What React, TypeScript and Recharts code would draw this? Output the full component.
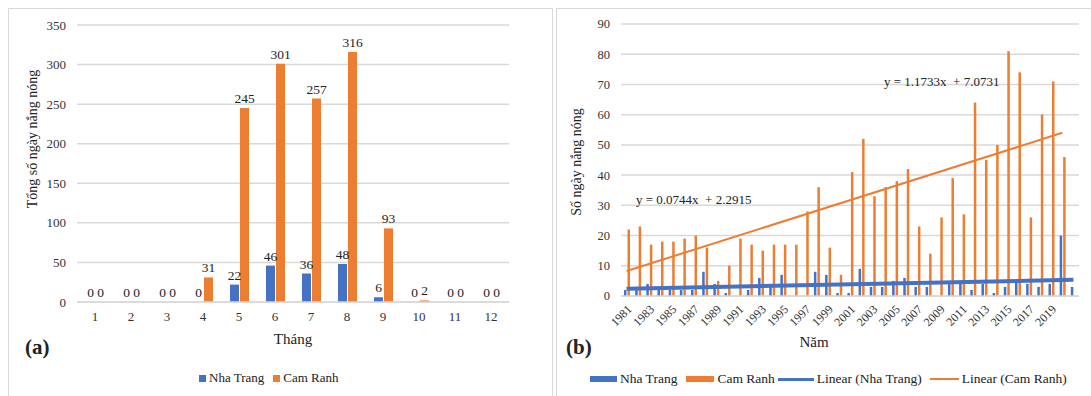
import React from "react";
import {
  Bar,
  BarChart,
  CartesianGrid,
  ComposedChart,
  LabelList,
  Line,
  XAxis,
  YAxis,
} from "recharts";

const BLUE = "#4472C4";
const ORANGE = "#ED7D31";
const GRID = "#d9d9d9";
const FONT = "'Liberation Serif', 'Times New Roman', serif";

// (a) monthly totals
const months = ["1", "2", "3", "4", "5", "6", "7", "8", "9", "10", "11", "12"];
const monthlyNhaTrang = [0, 0, 0, 0, 22, 46, 36, 48, 6, 0, 0, 0];
const monthlyCamRanh = [0, 0, 0, 31, 245, 301, 257, 316, 93, 2, 0, 0];
const monthlyTicks = [0, 50, 100, 150, 200, 250, 300, 350];

// (b) yearly counts, 1981-2021
const years = [
  "1981", "1982", "1983", "1984", "1985", "1986", "1987", "1988", "1989", "1990",
  "1991", "1992", "1993", "1994", "1995", "1996", "1997", "1998", "1999", "2000",
  "2001", "2002", "2003", "2004", "2005", "2006", "2007", "2008", "2009", "2010",
  "2011", "2012", "2013", "2014", "2015", "2016", "2017", "2018", "2019", "2020",
  "2021",
];
const yearlyNhaTrang = [
  2, 2, 4, 2, 2, 2, 2, 8, 4, 1,
  0, 2, 6, 4, 7, 0, 0, 8, 7, 1,
  1, 9, 3, 3, 5, 6, 3, 3, 0, 4,
  4, 2, 4, 1, 3, 5, 4, 3, 4, 20,
  3,
];
const yearlyCamRanh: (number | null)[] = [
  22, 23, 17, 18, 18, 19, 20, 16, 5, 10,
  19, 17, 15, 17, 17, 17, 28, 36, 16, 7,
  41, 52, 33, 36, 38, 42, 23, 14, 26, 39,
  27, 64, 45, 50, 81, 74, 26, 60, 71, 46,
  null,
];
// trendline end points [first year, last year of series]
const trendNhaTrang = [2.37, 5.34];
const trendCamRanh = [8.25, 54.0];
const yearlyTicks = [0, 10, 20, 30, 40, 50, 60, 70, 80, 90];
const shownYears = years.filter((_, i) => i % 2 === 0 && i < 40);

const monthlyData = months.map((m, i) => ({
  month: m,
  nha: monthlyNhaTrang[i],
  cam: monthlyCamRanh[i],
}));

const lastCam = yearlyCamRanh.reduce((acc: number, v, i) => (v != null ? i : acc), 0);
const yearlyData = years.map((y, i) => ({
  year: y,
  nha: yearlyNhaTrang[i],
  cam: yearlyCamRanh[i],
  nhaTrend: i === 0 ? trendNhaTrang[0] : i === years.length - 1 ? trendNhaTrang[1] : null,
  camTrend: i === 0 ? trendCamRanh[0] : i === lastCam ? trendCamRanh[1] : null,
}));

const abs = (s: React.CSSProperties): React.CSSProperties => ({ position: "absolute", ...s });
const tickStyle = (size: number) => ({ fill: "#333", fontSize: size, fontFamily: FONT, style: { fontFamily: FONT } });

function Swatch({ color, w, h }: { color: string; w: number; h: number }) {
  return <span style={{ display: "inline-block", width: w, height: h, background: color, marginRight: 3 }} />;
}

function MonthlyChart() {
  return (
    <div style={abs({ left: 0, top: 0, fontFamily: FONT })}>
      <BarChart
        width={550}
        height={396}
        data={monthlyData}
        margin={{ top: 25, right: 41, bottom: 64, left: 37 }}
        barSize={9}
        barGap={1}
        style={{ fontFamily: FONT }}
      >
        <CartesianGrid stroke={GRID} strokeWidth={1.5} vertical={false} />
        <XAxis
          dataKey="month"
          tickLine={false}
          axisLine={{ stroke: GRID, strokeWidth: 1.5 }}
          tick={tickStyle(13)}
          height={30}
          tickMargin={4}
        />
        <YAxis
          domain={[0, 350]}
          ticks={monthlyTicks}
          tickLine={false}
          axisLine={false}
          width={40}
          tickMargin={5}
          tick={tickStyle(13)}
        />
        <Bar dataKey="nha" fill={BLUE} minPointSize={0.01} isAnimationActive={false}>
          <LabelList dataKey="nha" position="top" fill="#222" fontSize={13.5} fontFamily={FONT} />
        </Bar>
        <Bar dataKey="cam" fill={ORANGE} minPointSize={0.01} isAnimationActive={false}>
          <LabelList dataKey="cam" position="top" fill="#222" fontSize={13.5} fontFamily={FONT} />
        </Bar>
      </BarChart>
    </div>
  );
}

function YearlyChart() {
  return (
    <div style={abs({ left: 556, top: 0, fontFamily: FONT })}>
      <ComposedChart
        width={535}
        height={396}
        data={yearlyData}
        margin={{ top: 24, right: 12, bottom: 40, left: 35 }}
        barSize={2.5}
        barGap={1}
        style={{ fontFamily: FONT }}
      >
        <CartesianGrid stroke={GRID} strokeWidth={1.5} vertical={false} />
        <XAxis
          dataKey="year"
          interval={0}
          tickLine={false}
          axisLine={{ stroke: GRID, strokeWidth: 1.5 }}
          height={60}
          angle={-45}
          textAnchor="end"
          tickMargin={2}
          tickFormatter={(v: string) => (shownYears.includes(v) ? v : "")}
          tick={tickStyle(12)}
        />
        <YAxis
          domain={[0, 90]}
          ticks={yearlyTicks}
          tickLine={false}
          axisLine={false}
          width={30}
          tickMargin={5}
          tick={tickStyle(12.5)}
        />
        <Bar dataKey="nha" fill={BLUE} isAnimationActive={false} />
        <Bar dataKey="cam" fill={ORANGE} isAnimationActive={false} />
        <Line
          dataKey="camTrend"
          stroke={ORANGE}
          strokeWidth={2}
          dot={false}
          connectNulls
          isAnimationActive={false}
        />
        <Line
          dataKey="nhaTrend"
          stroke={BLUE}
          strokeWidth={4}
          dot={false}
          connectNulls
          isAnimationActive={false}
        />
      </ComposedChart>
    </div>
  );
}

export default function App() {
  return (
    <div
      style={{
        position: "fixed",
        left: 0,
        top: 0,
        width: 1091,
        height: 396,
        background: "#fff",
        fontFamily: FONT,
        color: "#222",
        overflow: "hidden",
      }}
    >
      <div style={abs({ left: 8, top: 8, width: 543, height: 400, border: `1px solid ${GRID}` })} />
      <div style={abs({ left: 556, top: 8, width: 540, height: 400, border: `1px solid ${GRID}` })} />
      <MonthlyChart />
      <YearlyChart />

      {/* (a) titles and legend */}
      <div
        style={abs({
          left: 33,
          top: 139,
          fontSize: 14,
          whiteSpace: "nowrap",
          transform: "translate(-50%, -50%) rotate(-90deg)",
        })}
      >
        Tổng số ngày nắng nóng
      </div>
      <div style={abs({ left: 293, top: 339, fontSize: 15, transform: "translate(-50%, -50%)" })}>Tháng</div>
      <div style={abs({ left: 25, top: 335, fontSize: 21, fontWeight: "bold" })}>(a)</div>
      <div style={abs({ left: 199, top: 370, fontSize: 13, display: "flex", alignItems: "center", whiteSpace: "nowrap" })}>
        <Swatch color={BLUE} w={7} h={7} />
        <span style={{ marginRight: 9 }}>Nha Trang</span>
        <Swatch color={ORANGE} w={7} h={7} />
        <span>Cam Ranh</span>
      </div>

      {/* (b) titles, equations and legend */}
      <div
        style={abs({
          left: 577,
          top: 162,
          fontSize: 14,
          whiteSpace: "nowrap",
          transform: "translate(-50%, -50%) rotate(-90deg)",
        })}
      >
        Số ngày nắng nóng
      </div>
      <div style={abs({ left: 814, top: 342, fontSize: 15, transform: "translate(-50%, -50%)" })}>Năm</div>
      <div style={abs({ left: 566, top: 335, fontSize: 21, fontWeight: "bold" })}>(b)</div>
      <div style={abs({ left: 636, top: 192, fontSize: 13, whiteSpace: "pre" })}>y = 0.0744x  + 2.2915</div>
      <div style={abs({ left: 884, top: 74, fontSize: 13, whiteSpace: "pre" })}>y = 1.1733x  + 7.0731</div>
      <div style={abs({ left: 590, top: 371, fontSize: 13.5, display: "flex", alignItems: "center", whiteSpace: "nowrap" })}>
        <Swatch color={BLUE} w={27} h={6} />
        <span style={{ marginRight: 9 }}>Nha Trang</span>
        <Swatch color={ORANGE} w={28} h={6} />
        <span style={{ marginRight: 3 }}>Cam Ranh</span>
        <Swatch color={BLUE} w={36} h={3} />
        <span style={{ marginRight: 8 }}>Linear (Nha Trang)</span>
        <Swatch color={ORANGE} w={29} h={2} />
        <span>Linear (Cam Ranh)</span>
      </div>
    </div>
  );
}
